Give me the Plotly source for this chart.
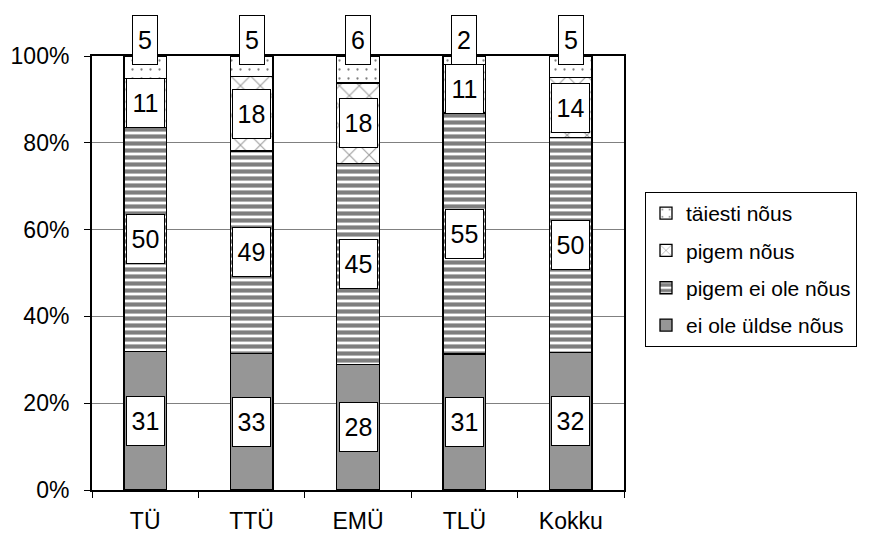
import plotly.graph_objects as go
import numpy as np

categories = ["TÜ", "TTÜ", "EMÜ", "TLÜ", "Kokku"]
series_names = ["ei ole üldse nõus", "pigem ei ole nõus", "pigem nõus", "täiesti nõus"]
ei_ole_yldse = [31, 33, 28, 31, 32]
pigem_ei_ole = [50, 49, 45, 55, 50]
pigem_nous = [11, 18, 18, 11, 14]
taiesti_nous = [5, 5, 6, 2, 5]
y_ticks = [0, 20, 40, 60, 80, 100]
y_tick_labels = ["0%", "20%", "40%", "60%", "80%", "100%"]

series = [ei_ole_yldse, pigem_ei_ole, pigem_nous, taiesti_nous]
styles = [
    dict(color="#969696", pattern=dict(shape="")),
    dict(color="white", pattern=dict(shape="-", fgcolor="black", bgcolor="white", size=7, solidity=0.6, fillmode="overlay")),
    dict(color="white", pattern=dict(shape="x", fgcolor="#404040", bgcolor="white", size=14, solidity=0.16, fillmode="overlay")),
    dict(color="white", pattern=dict(shape=".", fgcolor="black", bgcolor="white", size=9, solidity=0.05, fillmode="overlay")),
]

FONT = "Liberation Sans, Arial, sans-serif"

# page has an 8px body margin; figure drawn inside it
W, H = 863, 527
L, T, R, B = 84, 48, 247, 45
plot_w = W - L - R
plot_h = H - T - B

fig = go.Figure()
n = len(series_names)
for k, (name, vals, st) in enumerate(zip(series_names, series, styles)):
    fig.add_trace(go.Bar(
        x=categories, y=vals, name=name, legendgroup=name,
        legendrank=n - k,
        marker=dict(color=st["color"], pattern=st["pattern"],
                    line=dict(color="black", width=1.3)),
        width=0.4,
    ))

# data labels (boxes) at segment midpoints in percent scale
arr = np.array(series, dtype=float)
totals = arr.sum(axis=0)
cum = np.cumsum(arr, axis=0) / totals * 100
for i in range(arr.shape[0]):
    for j, cat in enumerate(categories):
        top = cum[i, j]
        bottom = cum[i - 1, j] if i > 0 else 0.0
        txt = str(int(arr[i, j]))
        if i == arr.shape[0] - 1:
            y = top
            yshift = 16
        else:
            y = (top + bottom) / 2
            yshift = 0
        fig.add_annotation(
            x=cat, y=y, yshift=yshift, text=txt, showarrow=False,
            font=dict(family=FONT, size=25, color="black"),
            bgcolor="white", bordercolor="black", borderwidth=1, borderpad=1,
            width=22 if len(txt) == 1 else 35, height=46,
            yanchor="middle", xanchor="center",
        )

fig.update_layout(
    barmode="stack", barnorm="percent",
    width=W, height=H,
    margin=dict(l=L, r=R, t=T, b=B, autoexpand=False),
    paper_bgcolor="white", plot_bgcolor="white",
    font=dict(family=FONT, size=23, color="black"),
    showlegend=True,
    legend=dict(
        x=(637 - L) / plot_w, y=(H - B - 184) / plot_h, xanchor="left", yanchor="top",
        traceorder="grouped",
        bordercolor="black", borderwidth=1,
        font=dict(family=FONT, size=21, color="black"),
        bgcolor="white", itemwidth=30, tracegroupgap=7,
    ),
)
fig.update_yaxes(
    range=[0, 100], tickvals=y_ticks, ticktext=y_tick_labels,
    showgrid=True, gridcolor="#808080", gridwidth=1,
    showline=True, linecolor="black", linewidth=2, mirror=True,
    ticks="outside", ticklen=6, tickcolor="black",
    ticklabelstandoff=10, zeroline=False, automargin=False,
    tickfont=dict(family=FONT, size=23, color="black"),
)
fig.update_xaxes(
    showline=True, linecolor="black", linewidth=2, mirror=True,
    ticks="outside", ticklen=6, tickcolor="black", tickson="boundaries",
    ticklabelstandoff=9, automargin=False,
    tickfont=dict(family=FONT, size=23, color="black"),
)

fig.write_html("out.html")
